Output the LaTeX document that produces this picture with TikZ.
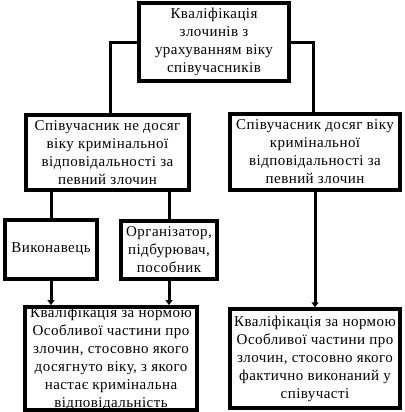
\documentclass[tikz,border=0pt]{standalone}
\usepackage{fontspec}
\setmainfont{Liberation Serif}[LetterSpace=3]
\usetikzlibrary{arrows.meta}
\begin{document}
\begin{tikzpicture}[x=1pt,y=-1pt,
  box/.style={draw, line width=3.5pt, inner sep=0pt, align=center,
    font=\fontsize{15}{18}\selectfont},
  conn/.style={line width=3pt},
  arr/.style={line width=3pt, -{Triangle[length=5pt,width=7pt]}}]
\useasboundingbox (0,0) rectangle (404,412);
\node[box, minimum width=150pt, minimum height=78pt] (top) at (214,42)
  {Кваліфікація\\злочинів з\\урахуванням віку\\співучасників};
\node[box, minimum width=163pt, minimum height=75pt] (lm) at (107.5,152.5)
  {Співучасник не досяг\\віку кримінальної\\відповідальності за\\певний злочин};
\node[box, minimum width=170pt, minimum height=76pt] (rm) at (315,152)
  {Співучасник досяг віку\\кримінальної\\відповідальності за\\певний злочин};
\node[box, minimum width=92pt, minimum height=59pt] (vyk) at (51,249.5)
  {Виконавець};
\node[box, minimum width=96pt, minimum height=58pt] (org) at (169,250)
  {Організатор,\\підбурювач,\\пособник};
\node[box, minimum width=172pt, minimum height=99pt] (bl) at (111,358.5)
  {Кваліфікація за нормою\\Особливої частини про\\злочин, стосовно якого\\досягнуто віку, з якого\\настає кримінальна\\відповідальність};
\node[box, minimum width=170pt, minimum height=99pt] (br) at (315,358.5)
  {Кваліфікація за нормою\\Особливої частини про\\злочин, стосовно якого\\фактично виконаний у\\співучасті};
\draw[conn] (top.west |- 0,43) -| (lm.north -| 110,0);
\draw[conn] (top.east |- 0,43) -| (rm.north -| 313,0);
\draw[conn] (lm.south -| vyk.north) -- (vyk.north);
\draw[conn] (lm.south -| org.north) -- (org.north);
\draw[arr] (vyk.south) -- (vyk.south |- bl.north);
\draw[arr] (org.south) -- (org.south |- bl.north);
\draw[arr] (rm.south) -- (br.north);
\end{tikzpicture}
\end{document}
